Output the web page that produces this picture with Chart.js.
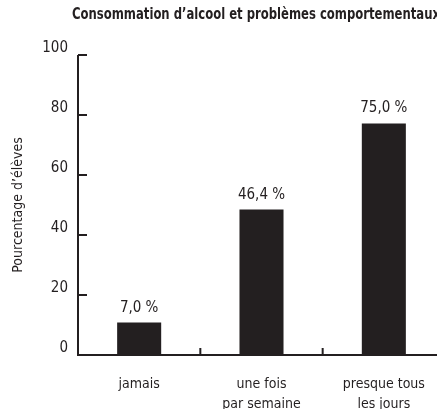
<!DOCTYPE html>
<html>
<head>
<meta charset="utf-8">
<script src="https://cdn.jsdelivr.net/npm/chart.js@4/dist/chart.umd.min.js"></script>
<style>
  html, body { margin: 0; padding: 0; background: #fff; overflow: hidden; }
  #wrap { width: 445px; height: 409px; }
</style>
</head>
<body>
<div id="wrap"><canvas id="chart"></canvas></div>
<script>
const title = "Consommation d\u2019alcool et probl\u00e8mes comportementaux";
const categories = ["jamais", ["une fois", "par semaine"], ["presque tous", "les jours"]];
// bar heights as drawn in the picture
const barValues = [10.8, 48.5, 77.2];
// printed labels above the bars
const barLabels = ["7,0 %", "46,4 %", "75,0 %"];
const yTicks = [0, 20, 40, 60, 80, 100];

const INK = "#231f20";
const FONT = "'DejaVu Sans Condensed', 'Liberation Sans Narrow', sans-serif";

// title squeezed to the narrow width of the original
const titlePlugin = {
  id: "titlePlugin",
  afterDraw(chart) {
    const ctx = chart.ctx;
    ctx.save();
    ctx.font = "bold 16px " + FONT;
    ctx.fillStyle = INK;
    ctx.textBaseline = "middle";
    ctx.textAlign = "left";
    const w = ctx.measureText(title).width;
    const sx = Math.min(1, 368 / w);
    ctx.translate(72, 15);
    ctx.scale(sx, 1);
    ctx.fillText(title, 0, 0);
    ctx.restore();
  }
};

// axes with inward ticks + value labels
const axisPlugin = {
  id: "axisPlugin",
  afterDatasetsDraw(chart) {
    const { ctx, chartArea, scales } = chart;
    const x = scales.x, y = scales.y;
    ctx.save();
    ctx.strokeStyle = INK;
    ctx.lineWidth = 2;
    ctx.beginPath();
    ctx.moveTo(chartArea.left, y.getPixelForValue(100));
    ctx.lineTo(chartArea.left, y.getPixelForValue(0));
    ctx.lineTo(chart.width, y.getPixelForValue(0));
    yTicks.forEach(v => {
      if (v === 0) return;
      const py = y.getPixelForValue(v);
      ctx.moveTo(chartArea.left, py);
      ctx.lineTo(chartArea.left + 9, py);
    });
    for (let i = 1; i < categories.length; i++) {
      const px = (x.getPixelForValue(i - 1) + x.getPixelForValue(i)) / 2;
      ctx.moveTo(px, y.getPixelForValue(0));
      ctx.lineTo(px, y.getPixelForValue(0) - 7);
    }
    ctx.stroke();

    ctx.fillStyle = INK;
    ctx.font = "15px " + FONT;
    ctx.textAlign = "center";
    ctx.textBaseline = "alphabetic";
    chart.getDatasetMeta(0).data.forEach((bar, i) => {
      ctx.fillText(barLabels[i], bar.x, bar.y - 11);
    });
    ctx.restore();
  }
};

new Chart(document.getElementById("chart"), {
  type: "bar",
  data: {
    labels: categories,
    datasets: [{
      data: barValues,
      backgroundColor: INK,
      borderWidth: 0,
      barPercentage: 0.36,
      categoryPercentage: 1
    }]
  },
  options: {
    responsive: true,
    maintainAspectRatio: false,
    animation: false,
    layout: { padding: { top: 55, left: 0, right: 0, bottom: 0 } },
    plugins: {
      legend: { display: false },
      tooltip: { enabled: false },
      title: { display: false }
    },
    scales: {
      x: {
        grid: { display: false, drawTicks: false },
        border: { display: false },
        ticks: {
          color: INK,
          font: { family: FONT, size: 14, lineHeight: 1.4 },
          padding: 20,
          maxRotation: 0,
          autoSkip: false
        },
        afterFit: s => { s.height = 54; }
      },
      y: {
        min: 0,
        max: 100,
        grid: { display: false, drawTicks: false },
        border: { display: false },
        ticks: {
          stepSize: 20,
          color: INK,
          font: { family: FONT, size: 15 },
          padding: 10,
          labelOffset: -7
        },
        title: {
          display: true,
          text: "Pourcentage d\u2019\u00e9l\u00e8ves",
          color: INK,
          font: { family: FONT, size: 14 },
          padding: { top: 10 }
        },
        afterFit: s => { s.width = 78; }
      }
    }
  },
  plugins: [axisPlugin, titlePlugin]
});
</script>
</body>
</html>
